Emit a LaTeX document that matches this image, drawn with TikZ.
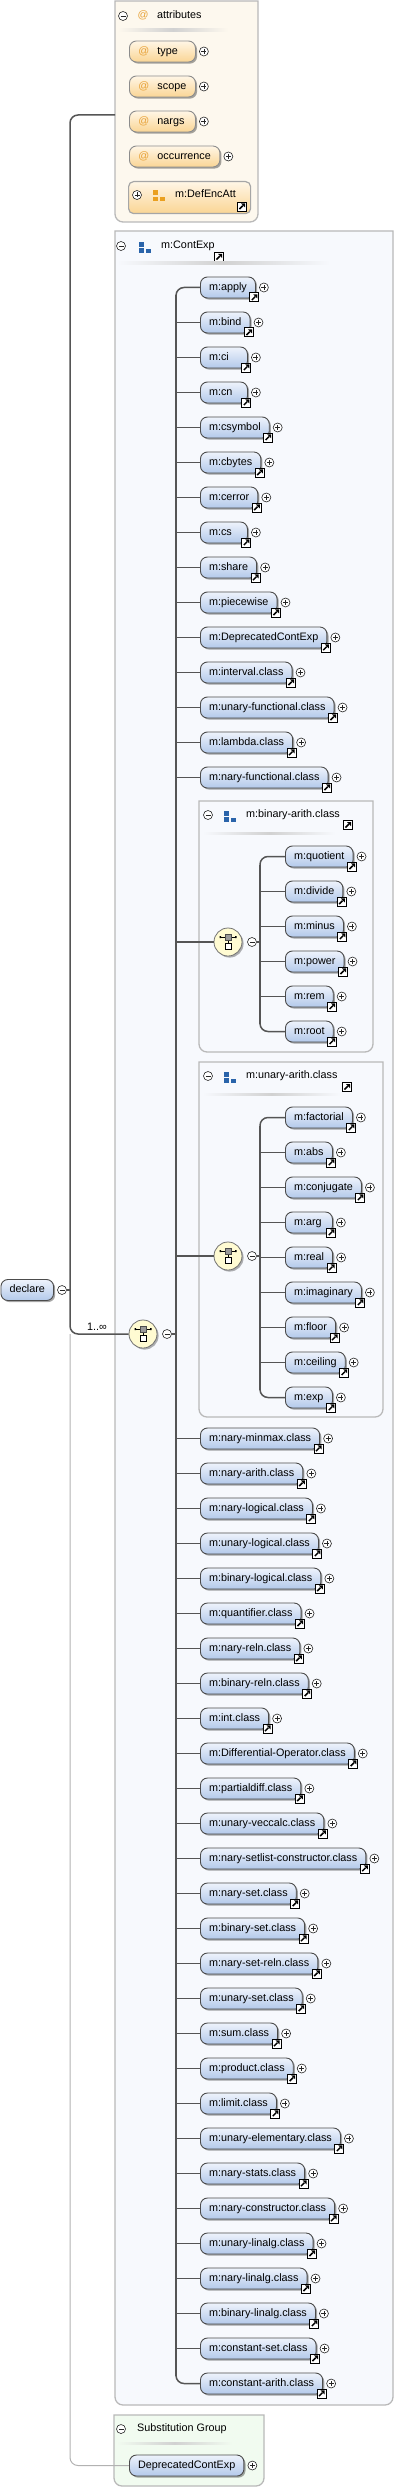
\documentclass[tikz,border=0pt]{standalone}
\usepackage{fontspec}
\setmainfont{Liberation Sans}
\usetikzlibrary{shadows,calc}
\definecolor{conn}{HTML}{555555}
\definecolor{elemtop}{HTML}{EEF3FC}
\definecolor{elembot}{HTML}{B3C9EA}
\definecolor{attop}{HTML}{FFF6E6}
\definecolor{atbot}{HTML}{FAD594}
\definecolor{atsign}{HTML}{E8A33A}
\definecolor{attrfill}{HTML}{FDF8EE}
\definecolor{cefill}{HTML}{F7F9FD}
\definecolor{subfill}{HTML}{F1FBF0}
\definecolor{boxline}{HTML}{B9B9B9}
\definecolor{compfill}{HTML}{FFFBD2}
\definecolor{grpblue}{HTML}{2A64AA}
\definecolor{grporange}{HTML}{EAA020}
\newcommand\dfont{\fontsize{10.8}{13}\selectfont}
\newcommand\mw[2]{\setbox0\hbox{#2}\ifdim\wd0<#1\makebox[#1][l]{#2}\else\box0\fi}
\tikzset{
  elem/.style={draw=black!70, line width=0.9pt, rounded corners=7pt, anchor=west,
    minimum height=21pt, inner xsep=8.6pt, inner ysep=0pt,
    text height=7.8pt, text depth=2.4pt, top color=elemtop, bottom color=elembot,
    font=\dfont, drop shadow={shadow xshift=1.6pt, shadow yshift=-1.6pt, opacity=0.35, fill=black}},
  attnode/.style={elem, top color=attop, bottom color=atbot, inner xsep=9pt, draw=black!45},
  stub/.style={draw=conn, line width=1.5pt},
  busl/.style={draw=conn, line width=2.8pt},
  sbusl/.style={draw=conn, line width=2pt},
  subl/.style={draw=black!30, line width=1pt},
  boxs/.style={draw=boxline, line width=1.3pt},
  hdr/.style={font=\dfont, anchor=west, inner sep=0pt, text height=7.8pt, text depth=2.4pt},
  sgn/.style={circle, draw=black!85, fill=white, line width=0.6pt, minimum size=9pt, inner sep=0pt},
  minusn/.style={sgn, path picture={\draw[line width=0.7pt] ([xshift=2pt]path picture bounding box.west) -- ([xshift=-2pt]path picture bounding box.east);}},
  plusn/.style={sgn, path picture={\draw[line width=0.7pt] ([xshift=2pt]path picture bounding box.west) -- ([xshift=-2pt]path picture bounding box.east) ([yshift=-2pt]path picture bounding box.north) -- ([yshift=2pt]path picture bounding box.south);}},
  compo/.style={circle, minimum size=28pt, inner sep=0pt, draw=black!55, line width=0.8pt, fill=compfill,
    drop shadow={shadow xshift=1.6pt, shadow yshift=-1.6pt, opacity=0.3, fill=black}},
  jumpi/.pic={
    \draw[fill=white, draw=black, line width=0.9pt] (-4.5,-4.5) rectangle (4.5,4.5);
    \draw[black, line width=1.5pt] (-2.6,2.6) -- (0.8,-0.8);
    \fill[black] (3,-3) -- (-1,-3) -- (3,1) -- cycle;
  },
  choiceicon/.pic={
    \draw[black, line width=0.6pt] (-8,-5) -- (8,-5);
    \fill[black] (-8.5,-6) rectangle (-7,-4) (7,-6) rectangle (8.5,-4);
    \draw[black, line width=0.6pt] (0,-2) -- (0,1);
    \draw[fill=black!40, draw=black!70, line width=0.5pt] (-3,-8) rectangle (3,-2);
    \draw[fill=white, draw=black, line width=0.6pt] (-3,1) rectangle (3,7);
  },
  pics/grpicon/.style={code={
    \fill[#1] (-6,-5.5) rectangle (-1,-0.5);
    \fill[#1] (-6,1) rectangle (-1,5.5);
    \fill[#1] (1,1.5) rectangle (6,5.5);
  }}
}
\newcommand\xbox[5]{\draw[boxs, fill=#5] (#1,#2) -- (#3,#2) [rounded corners=8pt] -- (#3,#4) -- (#1,#4) [sharp corners] -- cycle;}
\newcommand\kidbody[4]{%
  \node[elem] (#1) at (#2,#3) {\mw{29.8pt}{#4}};
  \node[plusn] (#1-p) at ([xshift=8pt]#1.east) {};
  \pic at ([xshift=-1.5pt,yshift=1pt]#1.south east) {jumpi};
}
\newcommand\kid[5]{\kidbody{#1}{#2}{#3}{#4}\draw[stub] (#5 |- #1.west) -- (#1.west);}
\newcommand\attr[3]{%
  \node[attnode] (#1) at (129,#2) {\mw{48pt}{\makebox[19pt][l]{\textcolor{atsign}{@}}#3}};
  \node[plusn] (#1-p) at ([xshift=8pt]#1.east) {};
}
\newcommand\sephdr[4]{\shade[left color=#4, right color=#4, middle color=black!18] (#1,#2) rectangle (#3,#2+2.2);}
\begin{document}
\begin{tikzpicture}[x=1pt,y=-1pt]
\useasboundingbox (0,0) rectangle (411,2488);
% ---------- boxes
\xbox{115}{1}{258}{222}{attrfill}
\xbox{115}{231}{393}{2405}{cefill}
\xbox{199}{801}{373}{1052}{cefill}
\xbox{199}{1062}{383}{1417}{cefill}
\xbox{114}{2415}{264}{2486}{subfill}
\coordinate (bus) at (176,0);
\coordinate (sb) at (260,0);
\coordinate (vx) at (70,0);
\coordinate (attrL) at (115,115);
% ---------- attributes header
\node[minusn] (ah-m) at (123,16) {};
\node[hdr, text=atsign] (ah-at) at (137.5,16) {@};
\node[hdr] (ah-t) at (157,16) {attributes};
\sephdr{118}{29}{228}{attrfill}
\attr{a1}{51.5}{type}
\attr{a2}{86.5}{scope}
\attr{a3}{121.5}{nargs}
\attr{a4}{156.5}{occurrence}
\node[draw=black!35, line width=1.2pt, rounded corners=5pt, top color=attop, bottom color=atbot,
  minimum width=122pt, minimum height=32pt, anchor=north west, inner sep=0pt] (defenc) at (128,181) {};
\node[plusn] (defenc-p) at (137,195) {};
\pic at (159,196) {grpicon=grporange};
\node[hdr] (defenc-t) at (175,195) {m:DefEncAtt};
\pic at (242,206.5) {jumpi};
% ---------- ContExp header
\node[minusn] (ce-m) at (121,246) {};
\pic at (145,247.5) {grpicon=grpblue};
\node[hdr] (ce-t) at (161,246) {m:ContExp};
\pic at (219,257) {jumpi};
\sephdr{117}{262}{330}{cefill}
% ---------- main children
\kidbody{c1}{200}{287.5}{m:apply}
\foreach \n/\y/\t in {c2/322.5/m:bind, c3/357.5/m:ci, c4/392.5/m:cn, c5/427.5/m:csymbol,
  c6/462.5/m:cbytes, c7/497.5/m:cerror, c8/532.5/m:cs, c9/567.5/m:share, c10/602.5/m:piecewise,
  c11/637.5/m:DeprecatedContExp, c12/672.5/m:interval.class, c13/707.5/m:unary-functional.class,
  c14/742.5/m:lambda.class, c15/777.5/m:nary-functional.class,
  c18/1438.5/m:nary-minmax.class, c19/1473.5/m:nary-arith.class, c20/1508.5/m:nary-logical.class,
  c21/1543.5/m:unary-logical.class, c22/1578.5/m:binary-logical.class, c23/1613.5/m:quantifier.class,
  c24/1648.5/m:nary-reln.class, c25/1683.5/m:binary-reln.class, c26/1718.5/m:int.class,
  c27/1753.5/m:Differential-Operator.class, c28/1788.5/m:partialdiff.class,
  c29/1823.5/m:unary-veccalc.class, c30/1858.5/m:nary-setlist-constructor.class,
  c31/1893.5/m:nary-set.class, c32/1928.5/m:binary-set.class, c33/1963.5/m:nary-set-reln.class,
  c34/1998.5/m:unary-set.class, c35/2033.5/m:sum.class, c36/2068.5/m:product.class,
  c37/2103.5/m:limit.class, c38/2138.5/m:unary-elementary.class, c39/2173.5/m:nary-stats.class,
  c40/2208.5/m:nary-constructor.class, c41/2243.5/m:unary-linalg.class, c42/2278.5/m:nary-linalg.class,
  c43/2313.5/m:binary-linalg.class, c44/2348.5/m:constant-set.class}
  {\kid{\n}{200}{\y}{\t}{bus}}
\kidbody{c45}{200}{2383.5}{m:constant-arith.class}
\draw[stub, rounded corners=8pt] (c1.west) -- (bus |- c1.west) -- (bus |- c45.west) -- (c45.west);
\draw[busl] ($(bus |- c1.west)+(0,8)$) -- ($(bus |- c45.west)+(0,-8)$);
% ---------- binary-arith group
\node[minusn] (bh-m) at (208,815) {};
\pic at (230,816) {grpicon=grpblue};
\node[hdr] (bh-t) at (246,815) {m:binary-arith.class};
\pic at (348,825) {jumpi};
\sephdr{203}{832}{335}{cefill}
\node[compo] (cb) at (228,942) {};
\pic at (cb.center) {choiceicon};
\node[minusn] (cb-m) at (252,942) {};
\draw[stub] (bus |- cb) -- (cb.west);
\draw[stub] (cb-m.east) -- (sb |- cb-m);
\kidbody{q1}{285}{856.5}{m:quotient}
\foreach \n/\y/\t in {q2/891.5/m:divide, q3/926.5/m:minus, q4/961.5/m:power, q5/996.5/m:rem}
  {\kid{\n}{285}{\y}{\t}{sb}}
\kidbody{q6}{285}{1031.5}{m:root}
\draw[stub, rounded corners=8pt] (q1.west) -- (sb |- q1.west) -- (sb |- q6.west) -- (q6.west);
\draw[sbusl] ($(sb |- q1.west)+(0,8)$) -- ($(sb |- q6.west)+(0,-8)$);
% ---------- unary-arith group
\node[minusn] (uh-m) at (208,1076) {};
\pic at (230,1077) {grpicon=grpblue};
\node[hdr] (uh-t) at (246,1076) {m:unary-arith.class};
\pic at (347,1087) {jumpi};
\sephdr{203}{1093}{340}{cefill}
\node[compo] (cu) at (228,1256) {};
\pic at (cu.center) {choiceicon};
\node[minusn] (cu-m) at (252,1256) {};
\draw[stub] (bus |- cu) -- (cu.west);
\draw[stub] (cu-m.east) -- (sb |- cu-m);
\kidbody{u1}{285}{1117.5}{m:factorial}
\foreach \n/\y/\t in {u2/1152.5/m:abs, u3/1187.5/m:conjugate, u4/1222.5/m:arg, u5/1257.5/m:real,
  u6/1292.5/m:imaginary, u7/1327.5/m:floor, u8/1362.5/m:ceiling}
  {\kid{\n}{285}{\y}{\t}{sb}}
\kidbody{u9}{285}{1397.5}{m:exp}
\draw[stub, rounded corners=8pt] (u1.west) -- (sb |- u1.west) -- (sb |- u9.west) -- (u9.west);
\draw[sbusl] ($(sb |- u1.west)+(0,8)$) -- ($(sb |- u9.west)+(0,-8)$);
% ---------- declare and main compositor
\node[elem] (decl) at (0.5,1290) {declare};
\node[minusn] (decl-m) at (62,1290) {};
\node[compo] (comp0) at (143,1334) {};
\pic at (comp0.center) {choiceicon};
\node[minusn] (comp0-m) at (167,1334) {};
\draw[stub] (comp0-m.east) -- (bus |- comp0-m);
\draw[subl, rounded corners=8pt] (vx |- comp0) -- (vx |- 0,2465.5) -- (129,2465.5);
\draw[stub, rounded corners=8pt] (attrL) -- (vx |- attrL) -- (vx |- comp0) -- (comp0.west);
\draw[stub] (decl-m.east) -- (vx |- decl-m);
\node[font=\dfont, inner sep=0pt, anchor=base] (mult) at (97,1330) {1..∞};
% ---------- substitution group
\node[minusn] (sh-m) at (121,2429) {};
\node[hdr] (sh-t) at (137,2429) {Substitution Group};
\sephdr{117}{2442}{232}{subfill}
\node[elem] (dce) at (129,2465.5) {DeprecatedContExp};
\node[plusn] (dce-p) at ([xshift=8pt]dce.east) {};
\end{tikzpicture}
\end{document}
